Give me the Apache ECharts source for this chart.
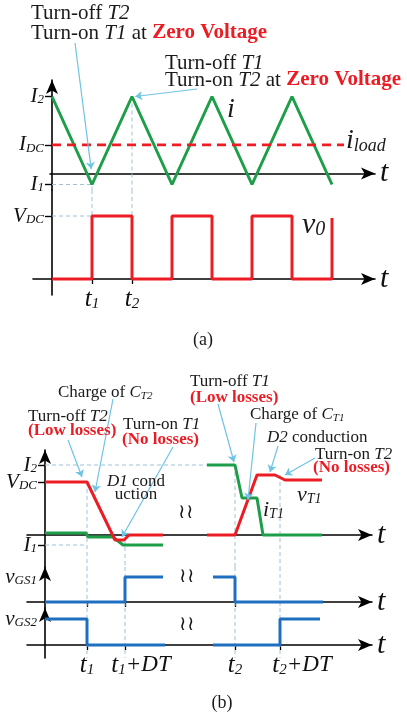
<!DOCTYPE html>
<html>
<head>
<meta charset="utf-8">
<script src="https://cdn.jsdelivr.net/npm/echarts@6/dist/echarts.min.js"></script>
<style>
  html, body { margin: 0; padding: 0; background: #fff; }
  #chart { width: 407px; height: 722px; }
</style>
</head>
<body>
<div id="chart"></div>
<script>
// ---------- panel (a): steady-state waveforms ----------
const halfT = [0, 1, 2, 3, 4, 5, 6, 7];          // time in half periods
const iVals = [7, -1, 7, -1, 7, -1, 7, -1];      // inductor current i
const aI2 = 7, aIDC = 2.6, aI1 = -1, aVDC = 6.3;
const aT1 = 1, aT2 = 2;
const iLoadT = [0, 7.3];
const v0T = [0, 1, 1, 2, 2, 3, 3, 4, 4, 5, 5, 6, 6, 7, 7];
const v0V = [0, 0, 6.3, 6.3, 0, 0, 6.3, 6.3, 0, 0, 6.3, 6.3, 0, 0, 6.1];

// ---------- panel (b): commutation detail ----------
const bI2 = 7, bVDC = 5.3, bI1 = -1;
const bT1 = 4.2, bT1DT = 8, bT2 = 19, bT2DT = 23.5;
const vT1LeftT = [0, 4.2, 7.0, 7.9, 8.4, 11.8];
const vT1LeftV = [5.3, 5.3, -0.5, -0.5, 0, 0];
const vT1RightT = [16.2, 19, 21.2, 23.0, 24.0, 27.7];
const vT1RightV = [0, 0, 6.0, 6.0, 5.5, 5.5];
const iT1LeftT = [0, 4.1, 4.3, 6.8, 7.8, 11.8];
const iT1LeftV = [0.2, 0.2, -0.2, -0.2, -1, -1];
const iT1RightT = [16.2, 19, 19.7, 21.2, 21.8, 27.7];
const iT1RightV = [7, 7, 3.7, 3.7, 0, 0];
const gs1LeftT = [0, 8, 8, 11.8], gs1LeftV = [0, 0, 2.5, 2.5];
const gs1RightT = [16.8, 19, 19, 27.8], gs1RightV = [2.5, 2.5, 0, 0];
const gs2LeftT = [0, 4.2, 4.2, 12], gs2LeftV = [2.6, 2.6, 0, 0];
const gs2RightT = [16.8, 23.5, 23.5, 27.5], gs2RightV = [0, 0, 2.6, 2.6];
const gsHigh1 = 2.5, gsHigh2 = 2.6;

const SERIF = '"Liberation Serif", "DejaVu Serif", serif';
const GREEN = '#1f9e4a', RED = '#ec1c24', BLUE = '#1f6fc0', LEAD = '#6fc3e4', GUIDE = '#9fc2d6';

const zip = (xs, ys) => xs.map((x, k) => [x, ys[k]]);

const AXRICH = {
  v: { fontFamily: SERIF, fontStyle: 'italic', fontSize: 21, color: '#111', lineHeight: 20 },
  s: { fontFamily: SERIF, fontStyle: 'italic', fontSize: 13, color: '#111', lineHeight: 12, verticalAlign: 'bottom' }
};
const TRICH = {
  t: { fontFamily: SERIF, fontStyle: 'italic', fontSize: 25, color: '#111', lineHeight: 26 },
  tp1: { fontFamily: SERIF, fontStyle: 'italic', fontSize: 25, color: '#111', lineHeight: 26, padding: [0, 0, 0, 32] },
  tp2: { fontFamily: SERIF, fontStyle: 'italic', fontSize: 25, color: '#111', lineHeight: 26, padding: [0, 0, 0, 44] },
  s: { fontFamily: SERIF, fontStyle: 'italic', fontSize: 15, color: '#111', lineHeight: 16, verticalAlign: 'bottom' },
  n: { fontFamily: SERIF, fontStyle: 'italic', fontSize: 23, color: '#111', lineHeight: 26 }
};

const axisLineStyle = { color: '#000', width: 1.6 };

// axes are moved onto the zero line of the crossing axis with offset (onZero would leave labels at the grid edge)
function xAx(gridIndex, min, max, offset, ticks, labels, rich) {
  const vals = labels ? Object.keys(labels).map(Number).sort((p, q) => p - q) : [];
  return {
    type: 'value', gridIndex, min, max, position: 'bottom', offset,
    splitLine: { show: false },
    axisLine: { show: true, onZero: false, symbol: ['none', 'arrow'], symbolSize: [9, 14], lineStyle: axisLineStyle },
    axisTick: { show: !!ticks, customValues: ticks || [], length: 5, lineStyle: { color: '#000', width: 1.3 } },
    axisLabel: {
      show: !!labels, customValues: vals, margin: 7, hideOverlap: false,
      showMinLabel: true, showMaxLabel: true, formatter: v => labels[v], rich: rich
    },
    name: 't', nameLocation: 'end', nameGap: 5,
    nameTextStyle: { fontFamily: SERIF, fontStyle: 'italic', fontSize: 30, color: '#111', verticalAlign: 'middle' }
  };
}

function yAx(gridIndex, min, max, offset, arrow, labels, ticks) {
  const vals = Object.keys(labels).map(Number).sort((p, q) => p - q);
  return {
    type: 'value', gridIndex, min, max, position: 'left', offset,
    splitLine: { show: false },
    axisLine: { show: true, onZero: false, symbol: arrow ? ['none', 'arrow'] : 'none', symbolSize: [9, 14], lineStyle: axisLineStyle },
    axisTick: { show: !!ticks, customValues: ticks || [], length: 7, lineStyle: { color: '#000', width: 1.4 } },
    axisLabel: {
      show: true, customValues: vals, margin: 8, hideOverlap: false,
      showMinLabel: true, showMaxLabel: true, formatter: v => labels[v], rich: AXRICH
    }
  };
}

// label-only axis, so that close labels are not dropped as overlapping
function labelAx(dim, gridIndex, min, max, offset, labels, rich, margin) {
  const vals = Object.keys(labels).map(Number).sort((p, q) => p - q);
  return {
    type: 'value', gridIndex, min, max, offset,
    position: dim === 'x' ? 'bottom' : 'left',
    splitLine: { show: false },
    axisLine: { show: false, onZero: false },
    axisTick: { show: false },
    axisLabel: {
      show: true, customValues: vals, margin, hideOverlap: false,
      showMinLabel: true, showMaxLabel: true, formatter: v => labels[v], rich
    }
  };
}

function wave(idx, data, color, extra) {
  return Object.assign({
    type: 'line', xAxisIndex: idx, yAxisIndex: idx, data, showSymbol: false, symbol: 'none',
    lineStyle: { color, width: 3 }, z: 4, clip: false, silent: true
  }, extra);
}

function guide(idx, data) {
  return {
    type: 'line', xAxisIndex: idx, yAxisIndex: idx, data, symbol: 'none', z: 2, clip: false, silent: true,
    lineStyle: { color: GUIDE, width: 1, type: [4, 3] }
  };
}

function leaders(data) {
  return {
    silent: true, symbol: ['none', 'arrow'], symbolSize: 7,
    label: { show: false },
    lineStyle: { color: LEAD, width: 1.2, type: 'solid' },
    data
  };
}

// rich styles for free text, given as full font strings so the serif family is kept
function rich(fs) {
  const fam = '"Liberation Serif", serif';
  const sub = Math.round(fs * 0.65);
  return {
    n: { font: fs + 'px ' + fam, fill: '#1a1a1a' },
    i: { font: 'italic ' + fs + 'px ' + fam, fill: '#1a1a1a' },
    r: { font: 'bold ' + fs + 'px ' + fam, fill: RED },
    s: { font: 'italic ' + sub + 'px ' + fam, fill: '#1a1a1a', verticalAlign: 'bottom', lineHeight: Math.round(fs * 0.7) }
  };
}

function txt(x, y, text, fs, align) {
  return {
    type: 'text', x, y, silent: true, z: 10,
    style: {
      text, font: fs + 'px "Liberation Serif", serif', fill: '#1a1a1a',
      align: align || 'left', verticalAlign: 'middle', rich: rich(fs)
    }
  };
}

const G = { outerBoundsMode: 'none', containLabel: false };

const option = {
  animation: false,
  backgroundColor: '#fff',
  grid: [
    Object.assign({ left: 50, right: 32, top: 80, height: 110 }, G),
    Object.assign({ left: 33, right: 32, top: 190, height: 105 }, G),
    Object.assign({ left: 27, right: 35, top: 450, height: 117 }, G),
    Object.assign({ left: 27, right: 35, top: 567, height: 41 }, G),
    Object.assign({ left: 27, right: 35, top: 608, height: 50 }, G)
  ],
  xAxis: [
    xAx(0, -0.05, 8.075, -16.5),
    xAx(1, -0.475, 8.075, -16, [aT1, aT2], { [aT1]: '{t|t}{s|1}', [aT2]: '{t|t}{s|2}' }, TRICH),
    xAx(2, -1.8, 32.7, -32),
    xAx(3, -1.8, 32.7, -6, [bT1, bT1DT, bT2]),
    xAx(4, -1.8, 32.7, -13, [bT1, bT1DT, bT2, bT2DT], { [bT1]: '{t|t}{s|1}', [bT2]: '{t|t}{s|2}' }, TRICH),
    labelAx('x', 4, -1.8, 32.7, -13, { [bT1DT]: '{tp1|t}{s|1}{n|+DT}', [bT2DT]: '{tp2|t}{s|2}{n|+DT}' }, TRICH, 7)
  ],
  yAxis: [
    yAx(0, -1.5, 8.5, -2, true, { [aI2]: '{v|I}{s|2}', [aIDC]: '{v|I}{s|DC}', [aI1]: '{v|I}{s|1}' }, [aI1, aIDC, aI2]),
    yAx(1, -1.6, 8.9, -19, false, { [aVDC]: '{v|V}{s|DC}' }, [aVDC]),
    yAx(2, -3.2, 8.5, -18, true, { [bI2]: '{v|I}{s|2}', [bI1]: '{v|I}{s|1}' }, [bI1, bVDC, bI2]),
    yAx(3, -0.6, 3.5, -18, true, { [gsHigh1]: '{v|v}{s|GS1}' }, null),
    yAx(4, -1.3, 3.7, -18, true, { [gsHigh2]: '{v|v}{s|GS2}' }, null),
    labelAx('y', 2, -3.2, 8.5, -18, { [bVDC]: '{v|V}{s|DC}' }, AXRICH, 8)
  ],
  series: [
    // (a) guides
    guide(0, [[0, aI1], [aT1, aI1], [aT1, -1.5]]),
    guide(0, [[aT2, aI2], [aT2, -1.5]]),
    guide(1, [[aT1, 8.9], [aT1, 0]]),
    guide(1, [[aT2, 8.9], [aT2, 0]]),
    guide(1, [[0, aVDC], [aT1, aVDC]]),
    // (a) waves
    wave(0, zip(halfT, iVals), GREEN, {
      markLine: leaders([
        [{ x: 75, y: 43 }, { coord: [0.98, 0.4] }],
        [{ x: 197, y: 89 }, { coord: [2.08, 7] }]
      ])
    }),
    wave(0, iLoadT.map(t => [t, aIDC]), RED, { lineStyle: { color: RED, width: 2.6, type: [9, 6] } }),
    wave(1, zip(v0T, v0V), RED),
    // (b) guides
    guide(2, [[0, bI2], [16.2, bI2]]),
    guide(2, [[0, bI1], [bT1, bI1]]),
    guide(2, [[bT1, bVDC], [bT1, -3.2]]),
    guide(2, [[bT1DT, -0.5], [bT1DT, -3.2]]),
    guide(2, [[bT2, bI2], [bT2, -3.2]]),
    guide(2, [[bT2DT, 6.0], [bT2DT, -3.2]]),
    ...[bT1, bT1DT, bT2, bT2DT].map(t => guide(3, [[t, 3.5], [t, -0.6]])),
    ...[bT1, bT1DT, bT2, bT2DT].map(t => guide(4, [[t, 3.7], [t, -1.3]])),
    // (b) waves
    wave(2, zip(iT1LeftT, iT1LeftV), GREEN),
    wave(2, zip(iT1RightT, iT1RightV), GREEN),
    wave(2, zip(vT1LeftT, vT1LeftV), RED, {
      markLine: leaders([
        [{ x: 68, y: 440 }, { coord: [3.7, 5.8] }],
        [{ x: 113, y: 399, lineStyle: { curveness: 0.15 } }, { coord: [5.0, 4.3] }],
        [{ x: 173, y: 447, lineStyle: { curveness: 0.4 } }, { coord: [7.7, -0.2] }],
        [{ x: 218, y: 404 }, { coord: [18.9, 7.3] }],
        [{ x: 256, y: 423 }, { coord: [20.3, 3.5] }],
        [{ x: 278, y: 446 }, { coord: [22.5, 6.3] }],
        [{ x: 315, y: 458 }, { coord: [24.0, 6.0] }]
      ])
    }),
    wave(2, zip(vT1RightT, vT1RightV), RED),
    wave(3, zip(gs1LeftT, gs1LeftV), BLUE),
    wave(3, zip(gs1RightT, gs1RightV), BLUE),
    wave(4, zip(gs2LeftT, gs2LeftV), BLUE),
    wave(4, zip(gs2RightT, gs2RightV), BLUE)
  ],
  graphic: [
    // (a)
    txt(31, 13, '{n|Turn-off }{i|T2}', 21),
    txt(31, 33, '{n|Turn-on }{i|T1}{n| at }{r|Zero Voltage}', 21),
    txt(165, 63, '{n|Turn-off }{i|T1}', 21),
    txt(165, 80, '{n|Turn-on }{i|T2}{n| at }{r|Zero Voltage}', 21),
    txt(231, 110, '{i|i}', 28, 'center'),
    txt(346, 141, '{i|i}{s|load}', 28),
    txt(302, 225, '{i|v}{s|0}', 30),
    txt(203, 340, '{n|(a)}', 18, 'center'),
    // (b)
    txt(58, 393, '{n|Charge of }{i|C}{s|T2}', 17),
    txt(28, 417, '{n|Turn-off }{i|T2}', 17),
    txt(28, 431, '{r|(Low losses)}', 17),
    txt(123, 425, '{n|Turn-on }{i|T1}', 17),
    txt(122, 440, '{r|(No losses)}', 17),
    txt(190, 382, '{n|Turn-off }{i|T1}', 17),
    txt(190, 398, '{r|(Low losses)}', 17),
    txt(250, 415, '{n|Charge of }{i|C}{s|T1}', 17),
    txt(267, 438, '{i|D2}{n| conduction}', 17),
    txt(315, 455, '{n|Turn-on }{i|T2}', 17),
    txt(313, 468, '{r|(No losses)}', 17),
    txt(136, 482, '{i|D1}{n| cond}', 17, 'center'),
    txt(136, 495, '{n|uction}', 17, 'center'),
    txt(297, 495, '{i|v}{s|T1}', 22),
    txt(263, 510, '{i|i}{s|T1}', 22),
    txt(186, 513, '{n|≀≀}', 20, 'center'),
    txt(187, 577, '{n|≀≀}', 20, 'center'),
    txt(187, 625, '{n|≀≀}', 20, 'center'),
    txt(222, 703, '{n|(b)}', 18, 'center')
  ]
};

const chart = echarts.init(document.getElementById('chart'));
chart.setOption(option);
</script>
</body>
</html>
